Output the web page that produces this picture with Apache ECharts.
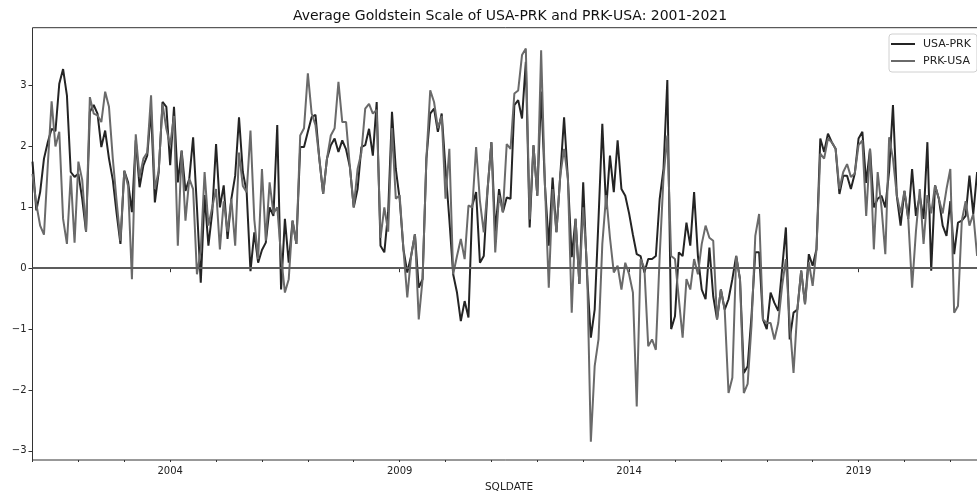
<!DOCTYPE html>
<html>
<head>
<meta charset="utf-8">
<script src="https://cdn.jsdelivr.net/npm/echarts@6/dist/echarts.min.js"></script>
<style>
  html, body { margin: 0; padding: 0; background: #fff; }
  #chart { width: 977px; height: 495px; }
</style>
</head>
<body>
<div id="chart"></div>
<script>
// Monthly categories, Jan 2001 .. Dec 2021
const firstYear = 2001;
const lastYear = 2021;
const months = [];
for (let y = firstYear; y <= lastYear; y++) {
  for (let m = 1; m <= 12; m++) months.push(y + '-' + String(m).padStart(2, '0'));
}

// Labelled years on the date axis
const majorYears = ['2004', '2009', '2014', '2019'];
// Y-axis tick values
const yTicks = [-3, -2, -1, 0, 1, 2, 3];

// Average Goldstein scale, USA -> PRK (monthly)
const usaPrk = [
  1.75, 0.95, 1.25, 1.8, 2.07, 2.29, 2.25, 3.03, 3.27, 2.84, 1.58, 1.5,
  1.55, 1.14, 0.6, 2.57, 2.68, 2.54, 1.99, 2.26, 1.8, 1.45, 0.9, 0.4,
  1.6, 1.41, 0.92, 2.1, 1.33, 1.69, 1.85, 2.6, 1.08, 1.58, 2.73, 2.65,
  1.69, 2.65, 1.41, 1.93, 1.27, 1.47, 2.15, 1.0, -0.24, 1.2, 0.37, 0.92,
  2.04, 1.0, 1.36, 0.48, 1.14, 1.52, 2.48, 1.58, 1.25, -0.05, 0.59, 0.09,
  0.3, 0.42, 1.0, 0.86, 2.35, -0.35, 0.81, 0.09, 0.78, 0.4, 1.99, 1.99,
  2.24, 2.48, 2.52, 1.8, 1.22, 1.8, 2.02, 2.13, 1.91, 2.1, 1.95, 1.66,
  1.0, 1.3, 1.99, 2.02, 2.29, 1.85, 2.73, 0.37, 0.26, 0.92, 2.57, 1.63,
  1.14, 0.31, -0.07, 0.2, 0.56, -0.32, -0.18, 1.8, 2.54, 2.62, 2.24, 2.54,
  1.63, 0.8, -0.1, -0.4, -0.87, -0.54, -0.81, 1.03, 1.25, 0.09, 0.2, 1.3,
  2.07, 0.6, 1.3, 0.92, 1.16, 1.14, 2.68, 2.76, 2.46, 3.39, 0.67, 2.02,
  1.19, 2.9, 1.36, 0.37, 1.49, 0.59, 1.52, 2.48, 1.47, 0.18, 0.81, -0.26,
  1.41, -0.1, -1.14, -0.68, 0.8, 2.37, 0.97, 1.85, 1.25, 2.1, 1.3, 1.19,
  0.9, 0.55, 0.23, 0.2, -0.07, 0.15, 0.15, 0.2, 1.14, 1.63, 3.09, -1.0,
  -0.79, 0.26, 0.2, 0.75, 0.37, 1.25, 0.2, -0.35, -0.51, 0.34, -0.46, -0.84,
  -0.35, -0.68, -0.51, -0.18, 0.2, -0.18, -1.72, -1.61, -0.79, 0.26, 0.26, -0.84,
  -1.0, -0.4, -0.57, -0.7, -0.02, 0.67, -1.17, -0.73, -0.68, -0.04, -0.59, 0.23,
  0.04, 0.31, 2.13, 1.91, 2.21, 2.07, 1.96, 1.22, 1.52, 1.52, 1.3, 1.55,
  2.13, 2.24, 1.4, 1.96, 1.0, 1.14, 1.19, 1.0, 1.6, 2.68, 1.19, 0.7,
  1.27, 0.81, 1.63, 0.86, 1.19, 0.81, 2.07, -0.04, 1.36, 1.14, 0.7, 0.53,
  1.1, 0.23, 0.75, 0.78, 0.86, 1.52, 0.89, 1.58
];

// Average Goldstein scale, PRK -> USA (monthly)
const prkUsa = [
  1.55, 1.05, 0.7, 0.55, 1.7, 2.74, 2.0, 2.24, 0.81, 0.4, 1.52, 0.42,
  1.75, 1.45, 0.6, 2.81, 2.54, 2.51, 2.4, 2.9, 2.65, 1.8, 1.1, 0.45,
  1.6, 1.35, -0.18, 2.2, 1.5, 1.8, 1.9, 2.84, 1.3, 1.6, 2.7, 2.29,
  2.02, 2.5, 0.37, 1.93, 0.78, 1.47, 1.3, -0.1, 0.3, 1.58, 0.7, 1.0,
  1.3, 0.31, 1.1, 0.6, 1.14, 0.37, 1.9, 1.35, 1.25, 2.26, 0.8, 0.15,
  1.63, 0.45, 1.41, 0.9, 1.0, 0.2, -0.4, -0.18, 0.78, 0.4, 2.18, 2.3,
  3.2, 2.54, 2.35, 1.8, 1.22, 1.8, 2.18, 2.3, 3.06, 2.4, 2.4, 1.66,
  1.0, 1.63, 1.9, 2.62, 2.7, 2.54, 2.6, 0.5, 1.0, 0.6, 2.3, 1.14,
  1.2, 0.31, -0.48, 0.2, 0.56, -0.84, -0.18, 1.8, 2.92, 2.73, 2.3, 2.5,
  1.14, 1.96, -0.1, 0.2, 0.48, 0.15, 1.03, 1.0, 1.99, 1.1, 0.59, 1.3,
  2.07, 0.26, 1.2, 0.92, 2.04, 1.96, 2.87, 2.92, 3.5, 3.61, 0.8, 2.02,
  1.19, 3.58, 1.36, -0.32, 1.3, 0.59, 1.52, 1.96, 1.47, -0.73, 0.81, -0.26,
  1.0, 0.04, -2.85, -1.61, -1.17, 0.4, 1.2, 0.5, -0.07, 0.04, -0.35, 0.09,
  -0.1, -0.4, -2.27, 0.15, 0.0, -1.28, -1.17, -1.34, 0.2, 1.5, 2.18, 0.2,
  0.15, -0.5, -1.14, -0.18, -0.35, 0.15, -0.1, 0.4, 0.7, 0.5, 0.45, -0.84,
  -0.35, -0.68, -2.05, -1.8, 0.2, -0.18, -2.05, -1.9, -0.95, 0.53, 0.89, -0.84,
  -0.9, -0.9, -1.17, -0.9, -0.3, 0.15, -0.9, -1.72, -0.68, -0.04, -0.59, 0.1,
  -0.29, 0.31, 1.88, 1.8, 2.13, 2.07, 1.96, 1.3, 1.58, 1.71, 1.5, 1.55,
  2.02, 2.1, 0.86, 1.96, 0.31, 1.58, 1.0, 0.23, 2.15, 1.8, 1.2, 0.9,
  1.27, 0.81, -0.32, 0.6, 1.3, 0.4, 1.2, 0.9, 1.36, 1.14, 0.9, 1.3,
  1.63, -0.73, -0.62, 0.78, 1.1, 0.7, 0.89, 0.2
];

const FONT = '"DejaVu Sans", "Liberation Sans", sans-serif';
const DARK = '#242424';
const GREY = '#6a6a6a';
const isJan = v => v.endsWith('-01');
const isMajor = (i, v) => isJan(v) && majorYears.includes(v.slice(0, 4));

const chart = echarts.init(document.getElementById('chart'), null, { renderer: 'canvas' });
chart.setOption({
  animation: false,
  backgroundColor: '#ffffff',
  textStyle: { fontFamily: FONT },
  graphic: [{
    type: 'text',
    x: 510, y: 9,
    style: {
      text: 'Average Goldstein Scale of USA-PRK and PRK-USA: 2001-2021',
      fill: '#111', font: '14px ' + FONT, textAlign: 'center', verticalAlign: 'top'
    }
  }, {
    type: 'text',
    x: 509, y: 482,
    style: { text: 'SQLDATE', fill: '#222', font: '10.5px ' + FONT, textAlign: 'center', verticalAlign: 'top' }
  }],
  grid: {
    left: 32.5, right: -15.4, top: 27.7, bottom: 35,
    show: true, borderColor: '#333', borderWidth: 1,
    outerBoundsMode: 'none'
  },
  legend: {
    orient: 'vertical', left: 889, top: 34,
    padding: [3, 6, 4, 2], itemGap: 3, itemWidth: 24, itemHeight: 2,
    icon: 'rect',
    backgroundColor: '#fff', borderColor: '#d0d0d0', borderWidth: 1, borderRadius: 3,
    textStyle: { fontSize: 11, lineHeight: 14, color: '#222', fontFamily: FONT, padding: [0, 0, 0, 3] },
    data: ['USA-PRK', 'PRK-USA']
  },
  xAxis: [{
    type: 'category', data: months, boundaryGap: false,
    axisLine: { show: false },
    axisTick: { show: true, interval: isMajor, length: 4, lineStyle: { color: '#333' } },
    axisLabel: { interval: isMajor, formatter: v => v.slice(0, 4), fontSize: 10, color: '#222', margin: 6, fontFamily: FONT },
    splitLine: { show: false }
  }, {
    type: 'category', data: months, boundaryGap: false, position: 'bottom',
    axisLine: { show: false },
    axisTick: { show: true, interval: (i, v) => isJan(v), length: 2, lineStyle: { color: '#333' } },
    axisLabel: { show: false },
    splitLine: { show: false }
  }],
  yAxis: {
    type: 'value', min: -3.15, max: 3.95,
    axisLine: { show: false },
    splitLine: { show: false },
    axisTick: { show: true, customValues: yTicks, length: 4, lineStyle: { color: '#333' } },
    axisLabel: {
      customValues: yTicks, fontSize: 10, color: '#222', margin: 6, fontFamily: FONT,
      formatter: v => (v < 0 ? '\u2212' + Math.abs(v) : String(v))
    }
  },
  series: [{
    name: 'USA-PRK', type: 'line', data: usaPrk, xAxisIndex: 0,
    symbol: 'none', lineStyle: { color: DARK, width: 2 }, itemStyle: { color: DARK }
  }, {
    name: 'PRK-USA', type: 'line', data: prkUsa, xAxisIndex: 0,
    symbol: 'none', lineStyle: { color: GREY, width: 2 }, itemStyle: { color: GREY },
    markLine: {
      silent: true, symbol: ['none', 'none'], label: { show: false },
      lineStyle: { color: '#5c5c5c', width: 2, type: 'solid' },
      data: [{ yAxis: 0 }]
    }
  }]
});
</script>
</body>
</html>
